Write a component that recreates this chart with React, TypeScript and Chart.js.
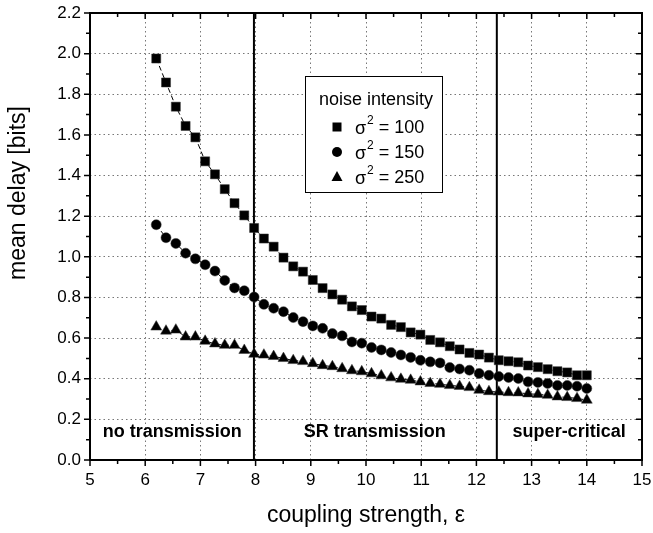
import { useEffect, useRef } from 'react';
import { Chart, registerables } from 'chart.js';

Chart.register(...registerables);

// coupling strength values (x)
const couplingStrength = [
  6.2, 6.377, 6.555, 6.732, 6.909, 7.086, 7.264, 7.441, 7.618, 7.795,
  7.973, 8.15, 8.327, 8.505, 8.682, 8.859, 9.036, 9.214, 9.391, 9.568,
  9.745, 9.923, 10.1, 10.277, 10.455, 10.632, 10.809, 10.986, 11.164, 11.341,
  11.518, 11.695, 11.873, 12.05, 12.227, 12.405, 12.582, 12.759, 12.936, 13.114,
  13.291, 13.468, 13.645, 13.823, 14.0,
];

// mean delay, sigma^2 = 100
const delay100 = [
  1.976, 1.858, 1.739, 1.644, 1.588, 1.47, 1.406, 1.333, 1.264, 1.204,
  1.142, 1.09, 1.05, 0.996, 0.953, 0.927, 0.886, 0.846, 0.815, 0.789,
  0.756, 0.738, 0.706, 0.696, 0.665, 0.654, 0.628, 0.617, 0.591, 0.579,
  0.56, 0.544, 0.527, 0.519, 0.504, 0.491, 0.486, 0.481, 0.465, 0.457,
  0.447, 0.437, 0.431, 0.417, 0.417,
];

// mean delay, sigma^2 = 150
const delay150 = [
  1.158, 1.094, 1.066, 1.018, 0.99, 0.961, 0.93, 0.884, 0.847, 0.833,
  0.802, 0.766, 0.747, 0.73, 0.701, 0.681, 0.66, 0.648, 0.622, 0.611,
  0.581, 0.575, 0.554, 0.542, 0.529, 0.517, 0.505, 0.491, 0.483, 0.478,
  0.455, 0.448, 0.442, 0.426, 0.417, 0.411, 0.406, 0.401, 0.385, 0.382,
  0.377, 0.367, 0.367, 0.363, 0.352,
];

// mean delay, sigma^2 = 250
const delay250 = [
  0.655, 0.635, 0.64, 0.606, 0.606, 0.585, 0.572, 0.565, 0.565, 0.54,
  0.521, 0.517, 0.51, 0.5, 0.49, 0.485, 0.475, 0.465, 0.46, 0.45,
  0.44, 0.435, 0.425, 0.415, 0.405, 0.398, 0.393, 0.385, 0.377, 0.373,
  0.367, 0.363, 0.357, 0.344, 0.337, 0.335, 0.332, 0.331, 0.326, 0.323,
  0.319, 0.311, 0.308, 0.303, 0.295,
];

const seriesLabels = ['100', '150', '250'];
const regionBounds = [7.97, 12.37];
const regionLabels = ['no transmission', 'SR transmission', 'super-critical'];
const regionLabelX = [6.49, 10.16, 13.68];
const regionLabelY = 0.14;
const xTitle = 'coupling strength, ε';
const yTitle = 'mean delay [bits]';

const FONT = '"Liberation Sans", Arial, Helvetica, sans-serif';

function drawMarker(ctx: CanvasRenderingContext2D, kind: string, x: number, y: number) {
  ctx.beginPath();
  if (kind === 'rect') {
    ctx.rect(x - 4.5, y - 4.5, 9, 9);
  } else if (kind === 'circle') {
    ctx.arc(x, y, 5, 0, Math.PI * 2);
  } else {
    ctx.moveTo(x, y - 6);
    ctx.lineTo(x + 5.5, y + 4);
    ctx.lineTo(x - 5.5, y + 4);
    ctx.closePath();
  }
  ctx.fill();
}

const framePlugin = {
  id: 'originFrame',
  beforeDatasetsDraw(chart: any) {
    const { ctx, chartArea: a, scales } = chart;
    const x = scales.x;
    const y = scales.y;
    ctx.save();
    ctx.strokeStyle = '#000';
    ctx.lineWidth = 2;
    for (const v of regionBounds) {
      const px = x.getPixelForValue(v);
      ctx.beginPath();
      ctx.moveTo(px, a.top);
      ctx.lineTo(px, a.bottom);
      ctx.stroke();
    }
    ctx.fillStyle = '#000';
    ctx.font = `bold 18px ${FONT}`;
    ctx.textAlign = 'center';
    ctx.textBaseline = 'middle';
    regionLabels.forEach((t, i) => {
      ctx.fillText(t, x.getPixelForValue(regionLabelX[i]), y.getPixelForValue(regionLabelY));
    });
    ctx.restore();
  },
  afterDraw(chart: any) {
    const { ctx, chartArea: a, scales } = chart;
    const x = scales.x;
    const y = scales.y;
    ctx.save();
    ctx.strokeStyle = '#000';
    ctx.lineWidth = 2;
    ctx.strokeRect(a.left, a.top, a.right - a.left, a.bottom - a.top);
    ctx.lineWidth = 1.5;
    // x ticks
    for (let v = 5; v <= 15.001; v += 0.5) {
      const major = Math.abs(v - Math.round(v)) < 1e-6;
      const len = major ? 6 : 4;
      const px = x.getPixelForValue(v);
      ctx.beginPath();
      ctx.moveTo(px, a.bottom);
      ctx.lineTo(px, a.bottom + len);
      ctx.moveTo(px, a.top);
      ctx.lineTo(px, a.top + len);
      ctx.stroke();
    }
    // y ticks
    for (let i = 0; i <= 22; i++) {
      const v = i * 0.1;
      const major = i % 2 === 0;
      const len = major ? 6 : 4;
      const py = y.getPixelForValue(v);
      ctx.beginPath();
      ctx.moveTo(a.left, py);
      ctx.lineTo(a.left - len, py);
      ctx.moveTo(a.right, py);
      ctx.lineTo(a.right - len, py);
      ctx.stroke();
    }
    // axis titles
    ctx.fillStyle = '#000';
    ctx.font = `23px ${FONT}`;
    ctx.textAlign = 'center';
    ctx.textBaseline = 'middle';
    ctx.fillText(xTitle, (a.left + a.right) / 2, 516);
    ctx.save();
    ctx.translate(19, 193);
    ctx.rotate(-Math.PI / 2);
    ctx.fillText(yTitle, 0, 0);
    ctx.restore();
    // legend
    const lx = 305, ly = 76, lw = 137, lh = 116;
    ctx.fillStyle = '#fff';
    ctx.fillRect(lx, ly, lw, lh);
    ctx.lineWidth = 1;
    ctx.strokeStyle = '#000';
    ctx.strokeRect(lx + 0.5, ly + 0.5, lw, lh);
    ctx.fillStyle = '#000';
    ctx.textBaseline = 'middle';
    ctx.textAlign = 'center';
    ctx.font = `18px ${FONT}`;
    ctx.fillText('noise intensity', lx + 71, ly + 24);
    const kinds = ['rect', 'circle', 'triangle'];
    kinds.forEach((k, i) => {
      const cy = ly + 51 + i * 25;
      drawMarker(ctx, k, lx + 32, cy);
      ctx.textAlign = 'left';
      ctx.font = `18px ${FONT}`;
      let tx = lx + 50;
      ctx.fillText('\u03c3', tx, cy + 2);
      tx += ctx.measureText('\u03c3').width + 1;
      ctx.font = `12px ${FONT}`;
      ctx.fillText('2', tx, cy - 6);
      tx += ctx.measureText('2').width;
      ctx.font = `18px ${FONT}`;
      ctx.fillText(' = ' + seriesLabels[i], tx, cy + 1);
    });
    ctx.restore();
  },
};

export default function App() {
  const ref = useRef<HTMLCanvasElement | null>(null);
  useEffect(() => {
    if (!ref.current) return;
    const mk = (vals: number[], style: string, radius: number, label: string) => ({
      label,
      data: couplingStrength.map((c, i) => ({ x: c, y: vals[i] })),
      showLine: true,
      borderColor: '#000',
      borderWidth: 1,
      borderDash: [5, 3],
      backgroundColor: '#000',
      pointStyle: style,
      pointRadius: radius,
      pointBorderWidth: 0.5,
      pointBorderColor: '#333',
      pointBackgroundColor: '#000',
    });
    const chart = new Chart(ref.current, {
      type: 'scatter',
      data: {
        datasets: [
          mk(delay100, 'rect', 6.4, 'σ² = 100'),
          mk(delay150, 'circle', 5, 'σ² = 150'),
          mk(delay250, 'triangle', 6.3, 'σ² = 250'),
        ],
      },
      options: {
        responsive: false,
        animation: false,
        layout: { padding: { top: 13, right: 11, left: 0, bottom: 0 } },
        plugins: { legend: { display: false }, tooltip: { enabled: false } },
        scales: {
          x: {
            type: 'linear',
            min: 5,
            max: 15,
            afterFit: (s: any) => {
              s.height = 73;
              s.paddingLeft = 0;
              s.paddingRight = 0;
            },
            ticks: { stepSize: 1, color: '#000', font: { family: FONT, size: 17 }, padding: 10, maxRotation: 0 },
            grid: { color: '#777', lineWidth: 1, drawTicks: false },
            border: { display: false, dash: [1.5, 3] },
          },
          y: {
            type: 'linear',
            min: 0,
            max: 2.2,
            afterFit: (s: any) => {
              s.width = 90;
              s.paddingTop = 0;
              s.paddingBottom = 0;
            },
            ticks: {
              stepSize: 0.2,
              color: '#000',
              font: { family: FONT, size: 17 },
              padding: 9,
              callback: (v: any) => Number(v).toFixed(1),
            },
            grid: { color: '#777', lineWidth: 1, drawTicks: false },
            border: { display: false, dash: [1.5, 3] },
          },
        },
      },
      plugins: [framePlugin],
    });
    return () => chart.destroy();
  }, []);
  return (
    <div style={{ position: 'absolute', left: 0, top: 0, width: 653, height: 533, background: '#fff' }}>
      <canvas ref={ref} width={653} height={533} />
    </div>
  );
}
